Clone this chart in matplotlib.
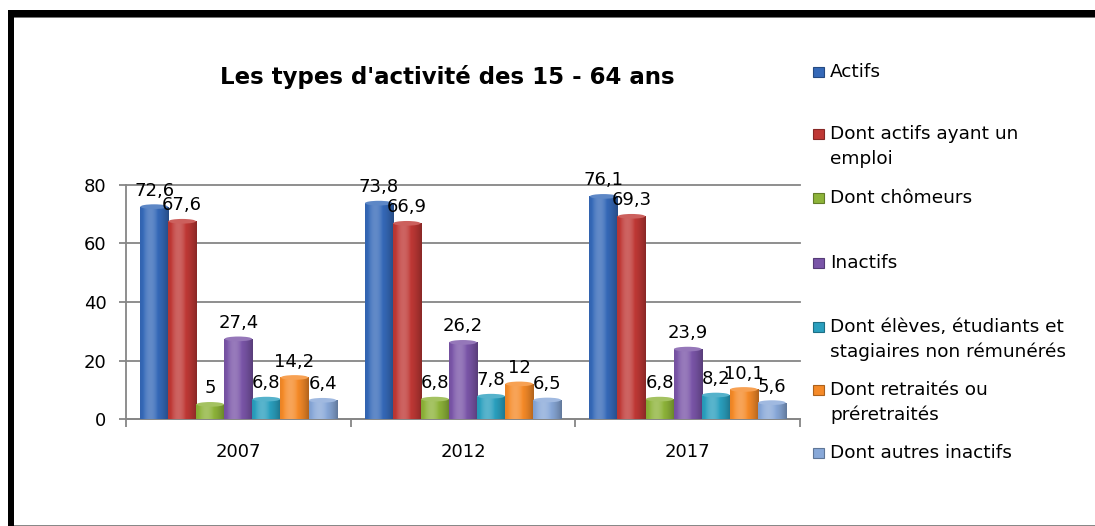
import numpy as np
import matplotlib
matplotlib.use("Agg")
import matplotlib.pyplot as plt
from matplotlib.patches import Rectangle, Ellipse
from matplotlib.colors import to_rgb

plt.rcParams['font.family'] = ['DejaVu Sans']

years = ['2007', '2012', '2017']
series_names = ['Actifs',
                'Dont actifs ayant un\nemploi',
                'Dont chômeurs',
                'Inactifs',
                'Dont élèves, étudiants et\nstagiaires non rémunérés',
                'Dont retraités ou\npréretraités',
                'Dont autres inactifs']
actifs = [72.6, 73.8, 76.1]
actifs_emploi = [67.6, 66.9, 69.3]
chomeurs = [5, 6.8, 6.8]
inactifs = [27.4, 26.2, 23.9]
eleves = [6.8, 7.8, 8.2]
retraites = [14.2, 12, 10.1]
autres_inactifs = [6.4, 6.5, 5.6]
series = [actifs, actifs_emploi, chomeurs, inactifs, eleves, retraites, autres_inactifs]
colors = ['#3569B8', '#BF3835', '#8DB339', '#7A55A8', '#2A9FBE', '#F58A28', '#88A8D8']

W, H = 1095, 526
fig = plt.figure(figsize=(W / 100, H / 100), dpi=100)

# axes box in pixels (left, top, right, bottom)
l, t, r, b = 126, 185, 800, 419
ax = fig.add_axes([l / W, 1 - b / H, (r - l) / W, (b - t) / H])

gray = '#868686'


def shade(base, n=64):
    # cylinder-like horizontal gradient
    c = np.array(to_rgb(base))
    x = np.linspace(0, 1, n)
    f = 1 - 0.6 * ((x - 0.36) / 0.64) ** 2
    f = np.clip(f, 0.4, 1)
    out = []
    for v in f:
        if v > 0.9:
            k = (v - 0.9) / 0.1 * 0.22
            out.append(c * (1 - k) + k)
        else:
            out.append(c * (0.5 + 0.55 * v))
    out = np.clip(np.array(out), 0, 1)
    return out[np.newaxis, :, :]


bw = 1 / 8
for j, (vals, col) in enumerate(zip(series, colors)):
    xs = np.arange(len(years)) - 0.5 + 1 / 16 + (j + 0.5) * bw
    bars = ax.bar(xs, vals, width=bw, color=col, linewidth=0, zorder=2)
    grad = shade(col)
    for bar, v in zip(bars, vals):
        x0 = bar.get_x()
        im = ax.imshow(grad, extent=(x0, x0 + bw, 0, v), aspect='auto',
                       zorder=3, interpolation='bilinear')
        im.set_clip_path(bar)
        cap = Ellipse((x0 + bw / 2, v), bw * 0.98, 1.6, zorder=4,
                      facecolor=np.clip(np.array(to_rgb(col)) * 0.8 + 0.2, 0, 1),
                      edgecolor='none')
        ax.add_patch(cap)
        lab = f"{v:g}".replace('.', ',')
        ax.annotate(lab, (x0 + bw / 2, v), xytext=(0, 5), textcoords='offset points',
                    ha='center', va='bottom', fontsize=13, zorder=5)

ax.set_xlim(-0.5, len(years) - 0.5)
ax.set_ylim(0, 80)
ax.set_yticks([0, 20, 40, 60, 80])
ax.set_xticks(range(len(years)))
ax.set_xticklabels(years)
ax.set_xticks(np.arange(len(years) + 1) - 0.5, minor=True)
ax.tick_params(axis='x', which='major', length=0, pad=17, labelsize=13)
ax.tick_params(axis='x', which='minor', length=6, width=1.3, color=gray, direction='out')
ax.tick_params(axis='y', length=5, width=1.3, color=gray, pad=9, labelsize=13)
ax.yaxis.grid(True, color=gray, linewidth=1.3, zorder=0)
ax.set_axisbelow(True)
for s in ['top', 'right']:
    ax.spines[s].set_visible(False)
for s in ['left', 'bottom']:
    ax.spines[s].set_color(gray)
    ax.spines[s].set_linewidth(1.3)
for gl in ax.yaxis.get_gridlines():
    gl.set_clip_on(False)

fig.text(447 / W, 1 - 77 / H, "Les types d'activité des 15 - 64 ans",
         ha='center', va='center', fontsize=16.5, fontweight='bold')

# legend drawn by hand to follow the original spacing
legend_y = [72, 134, 198, 263, 327, 390, 453]
for name, col, y in zip(series_names, colors, legend_y):
    c = np.array(to_rgb(col))
    fig.add_artist(Rectangle((813 / W, 1 - (y + 5) / H), 11 / W, 10 / H,
                             transform=fig.transFigure, facecolor=col,
                             edgecolor=np.clip(c * 0.7, 0, 1), linewidth=0.8))
    for k, line in enumerate(name.split('\n')):
        fig.text(830 / W, 1 - (y + k * 25) / H, line, ha='left', va='center',
                 fontsize=13.3)

# outer frame
fig.add_artist(Rectangle((8 / W, 1 - 17 / H), 1 - 8 / W, 7 / H,
                         transform=fig.transFigure, facecolor='black', edgecolor='none'))
fig.add_artist(Rectangle((8 / W, 0), 6 / W, 1 - 10 / H,
                         transform=fig.transFigure, facecolor='black', edgecolor='none'))
fig.add_artist(Rectangle((14 / W, 1 - 18 / H), 1 - 14 / W, 1 / H,
                         transform=fig.transFigure, facecolor='#777777', edgecolor='none'))
fig.add_artist(Rectangle((14 / W, 0), 1 - 14 / W, 1.5 / H,
                         transform=fig.transFigure, facecolor='#888888', edgecolor='none'))

fig.savefig('out.png', dpi=100)
